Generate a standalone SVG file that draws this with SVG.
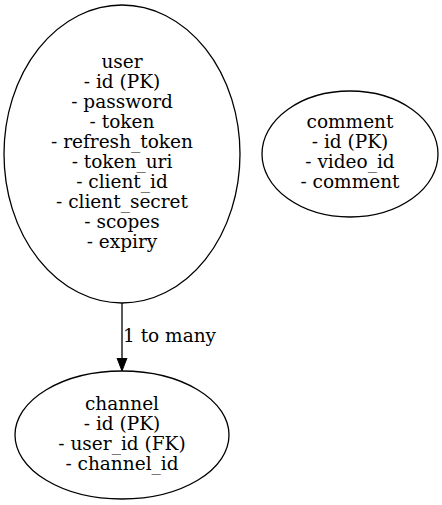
<svg xmlns="http://www.w3.org/2000/svg" width="442" height="505" viewBox="0 0 442 505">
<style>
.n{fill:none;stroke:#000;stroke-width:1.3}
text{font-family:"DejaVu Serif",serif;font-size:18.5px;fill:#000;text-anchor:middle}
.e{stroke:#000;stroke-width:1.3;fill:none}
</style>
<defs>
<marker id="arr" markerWidth="14" markerHeight="12" refX="13" refY="6" orient="auto" markerUnits="userSpaceOnUse">
<path d="M0,1 L13,6 L0,11 Z" fill="#000" stroke="#000"/>
</marker>
</defs>
<rect width="442" height="505" fill="#fff"/>
<g id="user">
<ellipse class="n" cx="122" cy="154" rx="118" ry="149"/>
<text x="122" y="68">user</text>
<text x="122" y="88">- id (PK)</text>
<text x="122" y="108">- password</text>
<text x="122" y="128">- token</text>
<text x="122" y="148">- refresh_token</text>
<text x="122" y="168">- token_uri</text>
<text x="122" y="188">- client_id</text>
<text x="122" y="208">- client_secret</text>
<text x="122" y="228">- scopes</text>
<text x="122" y="248">- expiry</text>
</g>
<g id="comment">
<ellipse class="n" cx="350" cy="154" rx="88" ry="63"/>
<text x="350" y="128">comment</text>
<text x="350" y="148">- id (PK)</text>
<text x="350" y="168">- video_id</text>
<text x="350" y="188">- comment</text>
</g>
<g id="channel">
<ellipse class="n" cx="122" cy="435" rx="107" ry="64"/>
<text x="122" y="410">channel</text>
<text x="122" y="430">- id (PK)</text>
<text x="122" y="450">- user_id (FK)</text>
<text x="122" y="470">- channel_id</text>
</g>
<g id="connectors">
<path class="e" d="M122,303 L122,371" marker-end="url(#arr)"/>
<text x="123" y="342" style="text-anchor:start">1 to many</text>
</g>
</svg>
